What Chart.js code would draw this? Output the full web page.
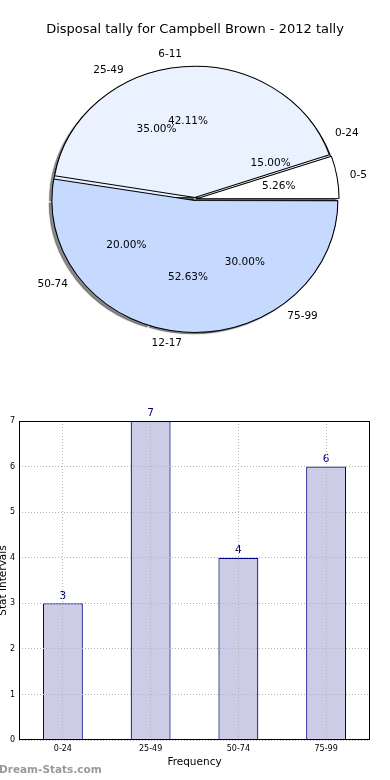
<!DOCTYPE html>
<html>
<head>
<meta charset="utf-8">
<script src="https://cdn.jsdelivr.net/npm/chart.js@4.4.1/dist/chart.umd.min.js"></script>
<style>
  html, body { margin: 0; padding: 0; background: #fff; }
  #page { position: relative; width: 390px; height: 780px; overflow: hidden; }
  .pie { position: absolute; left: 0; top: 0; }
  #bar-chart { position: absolute; left: -6px; top: 400px; }
</style>
</head>
<body>
<div id="page">
  <canvas class="pie" id="pie-intervals" width="390" height="400"></canvas>
  <canvas class="pie" id="pie-tally" width="390" height="400"></canvas>
  <canvas id="bar-chart" width="396" height="380"></canvas>
</div>
<script>
// data
const pieTitle = 'Disposal tally for Campbell Brown - 2012 tally';
const tallyLabels = ['0-5', '6-11', '12-17'];
const tallyValues = [1, 8, 10];
const intervalLabels = ['0-24', '25-49', '50-74', '75-99'];
const intervalValues = [3, 7, 4, 6];
const yTicks = [0, 1, 2, 3, 4, 5, 6, 7];

const tallyColors = ['#ffffff', '#eaf2ff', '#c6d9fe'];
const intervalColors = ['#ffffff', '#eaf2ff', '#c6d9fe', '#c6d9fe'];

Chart.defaults.font.family = 'DejaVu Sans';
Chart.defaults.color = '#000';

// the original pie is a bit squashed (non equal axes)
const SX = 1.04, SY = 0.96;

// chart.js draws clockwise, the original goes counter-clockwise from 3 o'clock
function rev(arr) { return arr.slice().reverse(); }

function squash(shadow) {
    return {
        id: 'squash',
        beforeDatasetsDraw(chart) {
            const c = chart.ctx;
            const a = chart.chartArea;
            const cx = (a.left + a.right) / 2, cy = (a.top + a.bottom) / 2;
            c.save();
            if (shadow) {
                c.shadowColor = 'rgba(0, 0, 0, 0.45)';
                c.shadowOffsetX = -3;
                c.shadowOffsetY = 3;
                c.shadowBlur = 1;
            }
            c.translate(cx, cy);
            c.scale(SX, SY);
            c.translate(-cx, -cy);
        },
        afterDatasetsDraw(chart) {
            chart.ctx.restore();
        }
    };
}

function pieConfig(labels, values, colors, offset, titleColor, plugins) {
    return {
        type: 'pie',
        data: {
            labels: rev(labels),
            datasets: [{
                data: rev(values),
                backgroundColor: rev(colors),
                borderColor: '#000',
                borderWidth: 1,
                offset: offset,
                radius: 136
            }]
        },
        options: {
            responsive: false,
            animation: false,
            rotation: 90,
            layout: { padding: { bottom: 39.6 } },
            plugins: {
                legend: { display: false },
                tooltip: { enabled: false },
                title: {
                    display: true,
                    text: pieTitle,
                    color: titleColor,
                    font: { size: 13, weight: 'normal' },
                    padding: { top: 22, bottom: 0 }
                }
            }
        },
        plugins: plugins
    };
}

function drawPieTexts(ctx, chart) {
    const meta = chart.getDatasetMeta(0);
    const values = chart.data.datasets[0].data;
    const total = values.reduce((a, b) => a + b, 0);
    meta.data.forEach(function (arc, i) {
        const p = arc.getProps(['x', 'y', 'startAngle', 'endAngle', 'outerRadius'], true);
        const mid = (p.startAngle + p.endAngle) / 2;
        const cos = Math.cos(mid), sin = Math.sin(mid);
        const at = function (d) {
            return [p.x + SX * d * p.outerRadius * cos, p.y + SY * d * p.outerRadius * sin];
        };

        ctx.textBaseline = 'middle';
        ctx.textAlign = cos > 0 ? 'left' : 'right';
        const l = at(1.11);
        ctx.fillText(chart.data.labels[i], l[0], l[1]);

        ctx.textAlign = 'center';
        const pct = (values[i] / total * 100).toFixed(2) + '%';
        const q = at(0.6);
        ctx.fillText(pct, q[0], q[1]);
    });
}

const intervalPie = new Chart(
    document.getElementById('pie-intervals'),
    pieConfig(intervalLabels, intervalValues, intervalColors, 6, 'rgba(0,0,0,0)', [squash(true)])
);

const pieTextPlugin = {
    id: 'pieText',
    afterDraw(chart) {
        const ctx = chart.ctx;
        ctx.save();
        ctx.fillStyle = '#000';
        ctx.font = '10.5px "DejaVu Sans"';
        drawPieTexts(ctx, intervalPie);
        drawPieTexts(ctx, chart);
        ctx.restore();
    }
};

const tallyPie = new Chart(
    document.getElementById('pie-tally'),
    pieConfig(tallyLabels, tallyValues, tallyColors, 6, '#000', [squash(false), pieTextPlugin])
);

// bar chart
const barExtras = {
    id: 'barExtras',
    afterDatasetsDraw(chart) {
        const ctx = chart.ctx;
        const meta = chart.getDatasetMeta(0);
        ctx.save();
        ctx.fillStyle = '#000080';
        ctx.font = '10.5px "DejaVu Sans"';
        ctx.textAlign = 'center';
        ctx.textBaseline = 'bottom';
        meta.data.forEach(function (bar, i) {
            ctx.fillText(chart.data.datasets[0].data[i], bar.x, bar.y - 2);
        });
        ctx.restore();
    },
    afterDraw(chart) {
        const ctx = chart.ctx;
        const a = chart.chartArea;
        ctx.save();
        ctx.strokeStyle = '#000';
        ctx.lineWidth = 1;
        ctx.strokeRect(Math.round(a.left) + 0.5, Math.round(a.top) + 0.5,
            Math.round(a.right - a.left) - 1, Math.round(a.bottom - a.top) - 1);
        ctx.fillStyle = '#9a9a9a';
        ctx.font = 'bold 10.5px "DejaVu Sans"';
        ctx.textAlign = 'left';
        ctx.textBaseline = 'middle';
        ctx.fillText('Dream-Stats.com', 5, 370);
        ctx.restore();
    }
};

new Chart(document.getElementById('bar-chart'), {
    type: 'bar',
    data: {
        labels: intervalLabels,
        datasets: [{
            data: intervalValues,
            backgroundColor: '#cccce6',
            borderColor: '#000080',
            borderWidth: 1.2,
            barPercentage: 0.455,
            categoryPercentage: 1
        }]
    },
    options: {
        responsive: false,
        animation: false,
        layout: { padding: { top: 21, right: 20, left: 0, bottom: 0 } },
        plugins: {
            legend: { display: false },
            tooltip: { enabled: false }
        },
        scales: {
            x: {
                offset: true,
                grid: { offset: false, z: 1, color: '#b4b4b4', drawTicks: false },
                border: { display: false, dash: [1, 2] },
                ticks: { font: { size: 8 }, padding: 4 },
                title: {
                    display: true,
                    text: 'Frequency',
                    font: { size: 10.5 },
                    padding: { top: 0, bottom: 11 }
                },
                afterFit(scale) { scale.height = 40; }
            },
            y: {
                min: 0,
                max: 7,
                afterBuildTicks(scale) { scale.ticks = yTicks.map(v => ({ value: v })); },
                grid: { z: 1, color: '#b4b4b4', drawTicks: false },
                border: { display: false, dash: [1, 2] },
                ticks: { font: { size: 8 }, padding: 4 },
                title: {
                    display: true,
                    text: 'Stat Intervals',
                    font: { size: 10.5 },
                    padding: { top: 3, bottom: 0 }
                },
                afterFit(scale) { scale.width = 25; }
            }
        }
    },
    plugins: [barExtras]
});
</script>
</body>
</html>
